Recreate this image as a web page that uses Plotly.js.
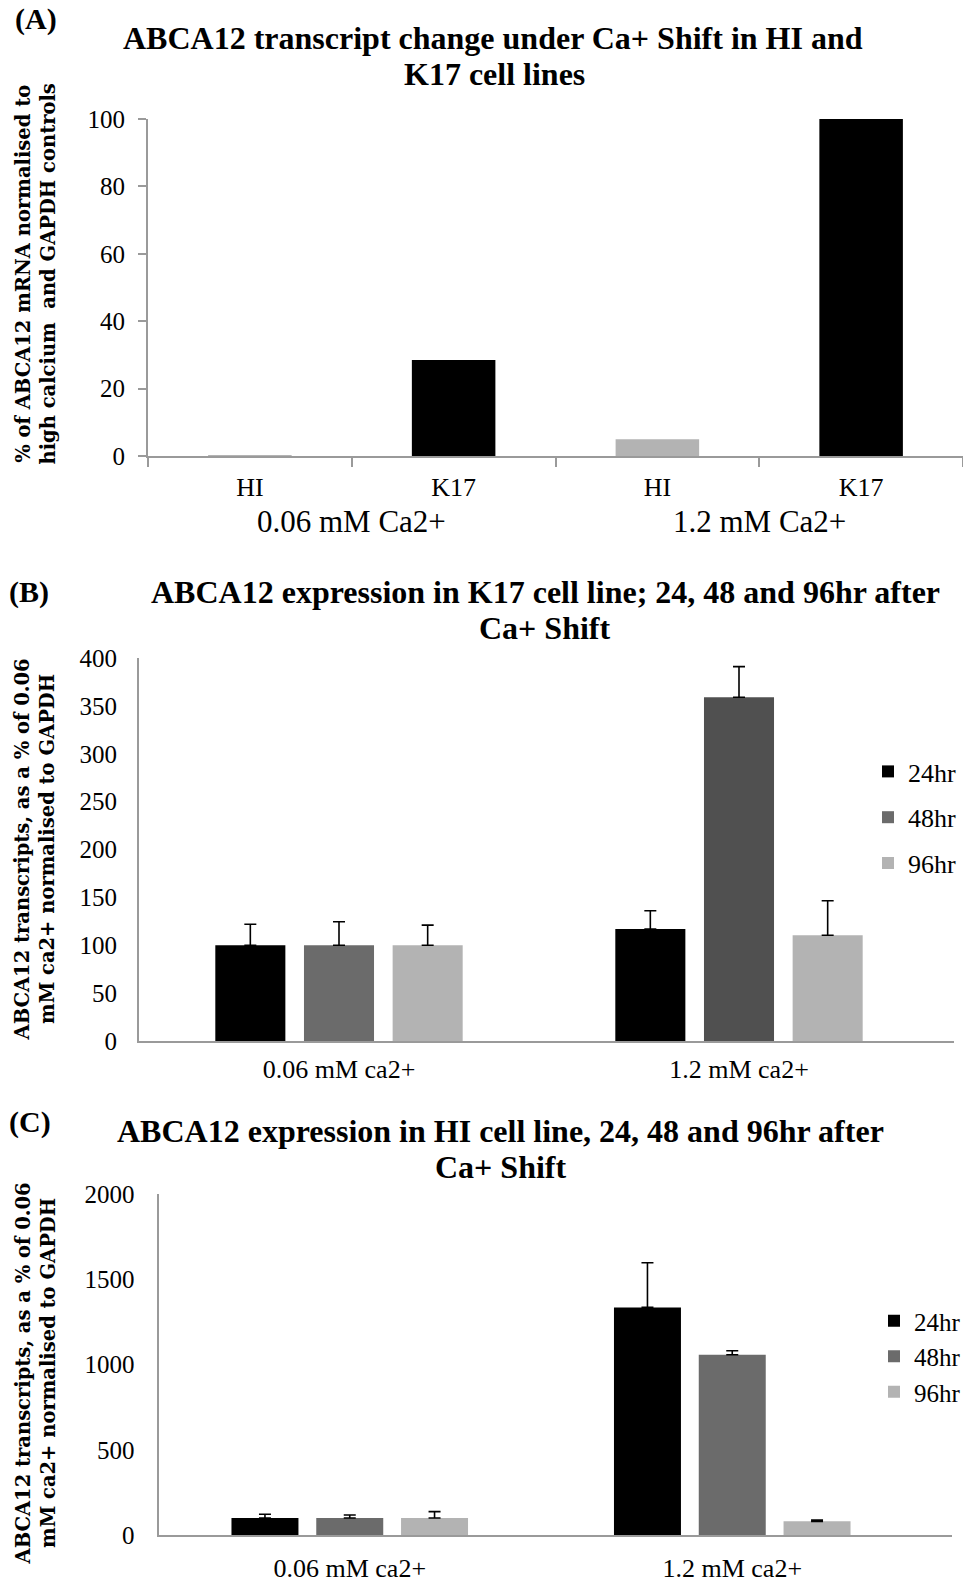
<!DOCTYPE html>
<html>
<head>
<meta charset="utf-8">
<script src="https://cdn.plot.ly/plotly-3.0.1.min.js"></script>
<style>html,body{margin:0;padding:0;background:#fff;overflow:hidden;}#chart{width:963px;height:1582px;}</style>
</head>
<body>
<div id="chart"></div>
<script>
// ---------- Panel A data ----------
const aGroups = ["0.06 mM Ca2+", "0.06 mM Ca2+", "1.2 mM Ca2+", "1.2 mM Ca2+"];
const aCells = ["HI", "K17", "HI", "K17"];
const aValues = [0.3, 28.5, 5, 100];
const aColors = ["#b3b3b3", "#000000", "#b3b3b3", "#000000"];

// ---------- Panel B data (K17) ----------
const bCategories = ["0.06 mM ca2+", "1.2 mM ca2+"];
const b24 = [100, 117];
const b48 = [100, 359];
const b96 = [100, 110.5];
const b24err = [22, 19];
const b48err = [24.5, 32];
const b96err = [21, 36];

// ---------- Panel C data (HI) ----------
const cCategories = ["0.06 mM ca2+", "1.2 mM ca2+"];
const c24 = [100, 1335];
const c48 = [100, 1057];
const c96 = [100, 80];
const c24err = [22, 262];
const c48err = [17, 24];
const c96err = [37, 8];

const seriesNames = ["24hr", "48hr", "96hr"];

// ---------- Text ----------
const titleA = ["ABCA12 transcript change under Ca+ Shift in HI and", "K17 cell lines"];
const titleB = ["ABCA12 expression in K17 cell line; 24, 48 and 96hr after", "Ca+ Shift"];
const titleC = ["ABCA12 expression in HI cell line, 24, 48 and 96hr after", "Ca+ Shift"];
const yTitleA = "% of ABCA12 mRNA normalised to<br>high calcium  and GAPDH controls";
const yTitleBC = "ABCA12 transcripts, as a % of 0.06<br>mM ca2+ normalised to GAPDH";

const W = 963, H = 1582;
const px = v => v / W;
const py = v => 1 - v / H;
const SERIF = '"Liberation Serif", "Times New Roman", serif';
const AXC = "#9a9a9a";

const aIdx = aCells.map((_, i) => i);
const zeros = n => new Array(n).fill(0);

function errBar(arr) {
  return {type: "data", symmetric: false, array: arr, arrayminus: zeros(arr.length),
          color: "#000", thickness: 1.6, width: 6};
}

const traces = [
  {type: "bar", x: aIdx, y: aValues, xaxis: "x", yaxis: "y", width: 0.41,
   marker: {color: aColors, line: {width: 0}}, showlegend: false, hoverinfo: "y"},

  {type: "bar", name: seriesNames[0], x: bCategories, y: b24, xaxis: "x2", yaxis: "y2",
   marker: {color: "#000000"}, error_y: errBar(b24err), legend: "legend2", legendgroup: "b1"},
  {type: "bar", name: seriesNames[1], x: bCategories, y: b48, xaxis: "x2", yaxis: "y2",
   marker: {color: ["#6b6b6b", "#505050"]}, error_y: errBar(b48err), legend: "legend2", legendgroup: "b2"},
  {type: "bar", name: seriesNames[2], x: bCategories, y: b96, xaxis: "x2", yaxis: "y2",
   marker: {color: "#b3b3b3"}, error_y: errBar(b96err), legend: "legend2", legendgroup: "b3"},

  {type: "bar", name: seriesNames[0], x: cCategories, y: c24, xaxis: "x3", yaxis: "y3",
   marker: {color: "#000000"}, error_y: errBar(c24err), legend: "legend3"},
  {type: "bar", name: seriesNames[1], x: cCategories, y: c48, xaxis: "x3", yaxis: "y3",
   marker: {color: "#6b6b6b"}, error_y: errBar(c48err), legend: "legend3"},
  {type: "bar", name: seriesNames[2], x: cCategories, y: c96, xaxis: "x3", yaxis: "y3",
   marker: {color: "#b3b3b3"}, error_y: errBar(c96err), legend: "legend3"}
];

// group label positions for panel A (mean index of each group)
const uniqGroups = [...new Set(aGroups)];
const groupAnn = uniqGroups.map(g => {
  const ids = aIdx.filter(i => aGroups[i] === g);
  const mid = ids.reduce((s, v) => s + v, 0) / ids.length;
  return {text: g, xref: "x", yref: "paper", x: mid, y: py(522), yanchor: "middle",
          showarrow: false, font: {family: SERIF, size: 31, color: "#000"}};
});

function tAnn(text, x, y, size) {
  return {text: "<b>" + text + "</b>", xref: "paper", yref: "paper", x: px(x), y: py(y), xanchor: "center",
          yanchor: "middle", showarrow: false,
          font: {family: SERIF, size: size, color: "#000", weight: "bold"}};
}
function yAnn(text, x, y) {
  return {text: "<b>" + text + "</b>", xref: "paper", yref: "paper", x: px(x), y: py(y),
          xanchor: "center", yanchor: "middle", textangle: -90, showarrow: false,
          font: {family: '"DejaVu Serif", serif', size: 19.5, color: "#000", weight: "bold"}};
}
const annotations = [
  tAnn("(A)", 36, 19, 30),
  tAnn(titleA[0], 493, 38, 32),
  tAnn(titleA[1], 494, 74, 32),
  tAnn("(B)", 29, 592, 30),
  tAnn(titleB[0], 545, 592, 32),
  tAnn(titleB[1], 544, 628, 32),
  tAnn("(C)", 30, 1122, 30),
  tAnn(titleC[0], 500, 1131, 32),
  tAnn(titleC[1], 501, 1167, 32),
  yAnn(yTitleA, 35.5, 274),
  yAnn(yTitleBC, 34.5, 850),
  yAnn(yTitleBC, 35.5, 1374)
].concat(groupAnn);

const tickFont = {family: SERIF, size: 25, color: "#000"};

const layout = {
  width: W, height: H,
  margin: {l: 0, r: 0, t: 0, b: 0, pad: 0, autoexpand: false},
  paper_bgcolor: "#fff", plot_bgcolor: "rgba(0,0,0,0)",
  barmode: "group", bargap: 0.335, bargroupgap: 0.21,
  font: {family: SERIF, color: "#000"},
  annotations: annotations,

  xaxis: {domain: [px(148), 1], range: [-0.5, aIdx.length - 0.5], tickmode: "array",
          tickvals: aIdx, ticktext: aCells, ticks: "", showgrid: false, zeroline: false,
          showline: true, linecolor: AXC, linewidth: 2, tickfont: {family: SERIF, size: 26, color: "#000"},
          ticklabelstandoff: 7, fixedrange: true,
          minor: {tickmode: "linear", tick0: -0.5, dtick: 1, ticks: "outside", ticklen: 9,
                  tickcolor: AXC, tickwidth: 2, showgrid: false}},
  yaxis: {domain: [py(456), py(119)], range: [0, 100], dtick: 20, ticks: "outside", ticklen: 8,
          tickcolor: AXC, tickwidth: 2, showline: true, linecolor: AXC, linewidth: 2,
          showgrid: false, zeroline: false, tickfont: tickFont, ticklabelstandoff: 8},

  xaxis2: {domain: [px(139), px(954)], anchor: "y2", type: "category", range: [-0.5, 1.5375],
           ticks: "", showgrid: false,
           showline: true, linecolor: AXC, linewidth: 2, tickfont: {family: SERIF, size: 26, color: "#000"},
           ticklabelstandoff: 4},
  yaxis2: {domain: [py(1041), py(658)], anchor: "x2", range: [0, 400], dtick: 50, ticks: "",
           showline: true, linecolor: AXC, linewidth: 2, showgrid: false, zeroline: false,
           tickfont: tickFont, ticklabelstandoff: 15},

  xaxis3: {domain: [px(158.5), px(952)], anchor: "y3", type: "category", range: [-0.5, 1.5745],
           ticks: "", showgrid: false,
           showline: true, linecolor: AXC, linewidth: 2, tickfont: {family: SERIF, size: 26, color: "#000"},
           ticklabelstandoff: 9},
  yaxis3: {domain: [py(1535), py(1194)], anchor: "x3", range: [0, 2000], dtick: 500, ticks: "",
           showline: true, linecolor: AXC, linewidth: 2, showgrid: false, zeroline: false,
           tickfont: tickFont, ticklabelstandoff: 17},

  legend2: {x: px(868), y: py(748), xanchor: "left", yanchor: "top", bgcolor: "rgba(0,0,0,0)",
            font: {family: SERIF, size: 26, color: "#000"}, tracegroupgap: 9, itemwidth: 30},
  legend3: {x: px(874), y: py(1298), xanchor: "left", yanchor: "top", bgcolor: "rgba(0,0,0,0)",
            font: {family: SERIF, size: 25, color: "#000"}, itemwidth: 30}
};

Plotly.newPlot("chart", traces, layout, {staticPlot: true, displayModeBar: false});
</script>
</body>
</html>
